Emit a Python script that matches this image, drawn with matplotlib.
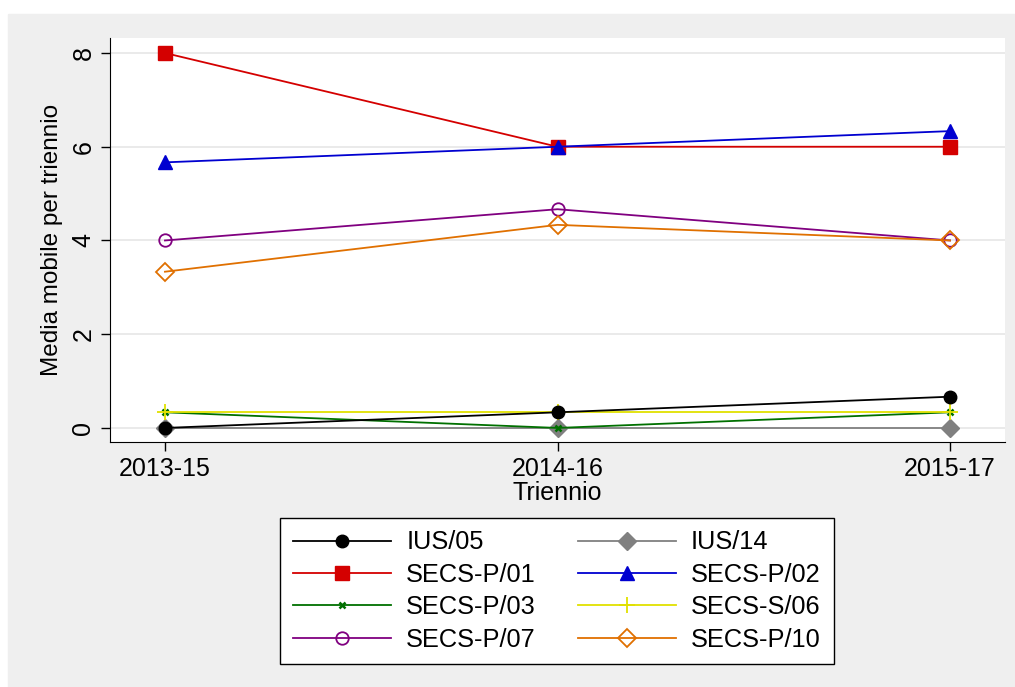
import numpy as np
import matplotlib
matplotlib.use("Agg")
from matplotlib import pyplot as plt
from matplotlib.patches import Rectangle

plt.rcParams['font.family'] = ['Liberation Sans', 'DejaVu Sans']

periods = ["2013-15", "2014-16", "2015-17"]
ius05 = [0, 1/3, 2/3]
ius14 = [0, 0, 0]
p01 = [8, 6, 6]
p02 = [17/3, 6, 19/3]
p03 = [1/3, 0, 1/3]
s06 = [1/3, 1/3, 1/3]
p07 = [4, 14/3, 4]
p10 = [10/3, 13/3, 4]

fig = plt.figure(figsize=(10.15, 6.87), dpi=100)
fig.patches.append(Rectangle((8/1015, 0), 1 - 8/1015, 1 - 14/687,
                             transform=fig.transFigure, color="#efefef", zorder=-10))

ax = fig.add_axes([110/1015, 1 - 442/687, (1005 - 110)/1015, (442 - 38)/687])
ax.set_facecolor("white")
x = np.arange(len(periods))

h = {}
h["ius05"], = ax.plot(x, ius05, color="black", marker="o", ms=9, lw=1.3, label="IUS/05", zorder=5)
h["ius14"], = ax.plot(x, ius14, color="#808080", marker="D", ms=9, lw=1.3, label="IUS/14", zorder=3)
h["p01"], = ax.plot(x, p01, color="#d40000", marker="s", ms=10, lw=1.3, label="SECS-P/01")
h["p02"], = ax.plot(x, p02, color="#0000d0", marker="^", ms=10, lw=1.3, label="SECS-P/02")
h["p03"], = ax.plot(x, p03, color="#007000", marker="x", ms=5, mew=1.8, lw=1.3, label="SECS-P/03", zorder=4)
h["s06"], = ax.plot(x, s06, color="#e0e000", marker="+", ms=11, mew=1.3, lw=1.3, label="SECS-S/06", zorder=4)
h["p07"], = ax.plot(x, p07, color="#800080", marker="o", ms=9, mfc="none", mew=1.3, lw=1.3, label="SECS-P/07")
h["p10"], = ax.plot(x, p10, color="#e07000", marker="D", ms=9, mfc="none", mew=1.3, lw=1.3, label="SECS-P/10")

ax.set_xlim(-0.14, 2.14)
ax.set_ylim(-0.3, 8.32)
ax.set_xticks(x)
ax.set_xticklabels(periods)
ax.set_yticks([0, 2, 4, 6, 8])
for lab in ax.get_yticklabels():
    lab.set_rotation(90)
    lab.set_va("center")
ax.tick_params(labelsize=18, length=6.5, width=1, pad=4, direction="out", color="black")
ax.grid(axis="y", color="#e6e6e6", lw=1.2)
ax.set_axisbelow(True)
for s in ["top", "right"]:
    ax.spines[s].set_visible(False)
ax.set_xlabel("Triennio", fontsize=18, labelpad=0)
ax.set_ylabel("Media mobile per triennio", fontsize=17.5, labelpad=6)

order = ["ius05", "p01", "p03", "p07", "ius14", "p02", "s06", "p10"]
leg = fig.legend([h[k] for k in order], [h[k].get_label() for k in order],
                 loc="center", bbox_to_anchor=(557/1015, 1 - 591/687), ncol=2,
                 fontsize=18.3, frameon=True, fancybox=False, edgecolor="black",
                 facecolor="white", framealpha=1,
                 handlelength=3.86, columnspacing=1.65, labelspacing=0.33,
                 borderpad=0.5, handletextpad=0.59)
leg.get_frame().set_linewidth(1)

fig.savefig("out.png", dpi=100)
